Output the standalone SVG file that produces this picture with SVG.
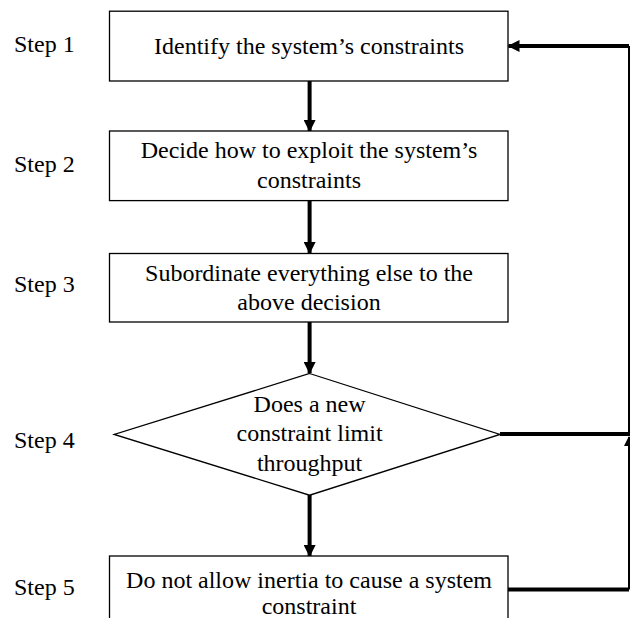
<svg xmlns="http://www.w3.org/2000/svg" width="630" height="618" viewBox="0 0 630 618">
<style>
text{font-family:"Liberation Serif","Times New Roman",serif;font-size:24px;fill:#000}
.c{text-anchor:middle}
.box{fill:#fff;stroke:#000;stroke-width:1.3}
.thick{fill:none;stroke:#000;stroke-width:4}
.thin{fill:none;stroke:#000;stroke-width:2}
</style>
<defs>
<marker id="ah" markerUnits="userSpaceOnUse" markerWidth="12" markerHeight="12" refX="11" refY="6" orient="auto" viewBox="0 0 12 12">
<path d="M0,0 L12,6 L0,12 z" fill="#000"/>
</marker>
<marker id="ahs" markerUnits="userSpaceOnUse" markerWidth="10" markerHeight="10" refX="9" refY="5" orient="auto" viewBox="0 0 10 10">
<path d="M0,0 L10,5 L0,10 z" fill="#000"/>
</marker>
</defs>
<rect width="630" height="618" fill="#fff"/>
<g id="labels">
<text x="14" y="52">Step 1</text>
<text x="14" y="172">Step 2</text>
<text x="14" y="292">Step 3</text>
<text x="14" y="448">Step 4</text>
<text x="14" y="595">Step 5</text>
</g>
<g id="connectors">
<line class="thick" x1="309.6" y1="81" x2="309.6" y2="131" marker-end="url(#ah)"/>
<line class="thick" x1="309.6" y1="201" x2="309.6" y2="253" marker-end="url(#ah)"/>
<line class="thick" x1="309.6" y1="322" x2="309.6" y2="373" marker-end="url(#ah)"/>
<line class="thick" x1="309.6" y1="495" x2="309.6" y2="556" marker-end="url(#ah)"/>
<polyline class="thick" points="500,434 629,434"/>
<polyline class="thick" points="508,589.5 629,589.5"/>
<line class="thin" x1="629" y1="589.5" x2="629" y2="437" marker-end="url(#ahs)"/>
<polyline class="thin" points="629,436 629,46"/>
<line class="thick" x1="629" y1="46" x2="508.5" y2="46" stroke-width="3" marker-end="url(#ah)"/>
</g>
<g id="step1">
<rect class="box" x="109.5" y="11.2" width="398.5" height="69.8"/>
<text class="c" x="309" y="53.5">Identify the system’s constraints</text>
</g>
<g id="step2">
<rect class="box" x="109.5" y="131" width="398.5" height="69.6"/>
<text class="c" x="309" y="158">Decide how to exploit the system’s</text>
<text class="c" x="309" y="188">constraints</text>
</g>
<g id="step3">
<rect class="box" x="109.5" y="253.5" width="398.5" height="68.5"/>
<text class="c" x="309" y="280.5">Subordinate everything else to the</text>
<text class="c" x="309" y="309.5">above decision</text>
</g>
<g id="step4">
<polygon class="box" points="309.6,373.5 500,434.4 309.6,495.2 114.2,434.4"/>
<text class="c" x="309.6" y="412">Does a new</text>
<text class="c" x="309.6" y="441">constraint limit</text>
<text class="c" x="309.6" y="470.5">throughput</text>
</g>
<g id="step5">
<rect class="box" x="109.5" y="556" width="398.5" height="80"/>
<text class="c" x="309" y="587.5">Do not allow inertia to cause a system</text>
<text class="c" x="309" y="614">constraint</text>
</g>
</svg>
